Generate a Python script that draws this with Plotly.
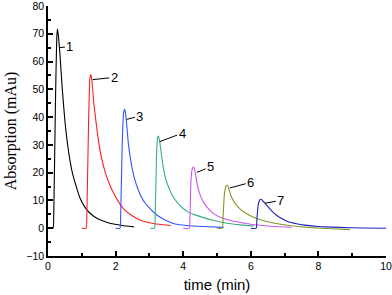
import plotly.graph_objects as go

# ---- data ----
t1 = [0, 0.15, 0.17, 0.22, 0.26, 0.28, 0.31, 0.355, 0.42, 0.50, 0.56, 0.62, 0.72, 0.84, 0.95, 1.09, 1.25, 1.46, 1.65, 1.85, 2.2, 2.54]
v1 = [0, 0, 5, 45, 69, 71.7, 69, 62.4, 50.5, 38.6, 32, 26.7, 20, 14.8, 10.8, 7.6, 5.3, 3.5, 2.5, 1.7, 1.0, 0.5]

t2 = [1.0, 1.13, 1.15, 1.20, 1.24, 1.27, 1.30, 1.36, 1.48, 1.58, 1.71, 1.82, 1.95, 2.1, 2.25, 2.5, 2.74, 3.0, 3.3, 3.63]
v2 = [0, 0, 5, 38, 54, 55.3, 53, 44.5, 32.6, 25.5, 19.5, 15.8, 12.4, 9.2, 6.8, 4.4, 2.9, 2.0, 1.4, 0.9]

t3 = [2.0, 2.13, 2.15, 2.20, 2.24, 2.27, 2.30, 2.38, 2.46, 2.55, 2.68, 2.82, 3.0, 3.17, 3.4, 3.71, 4.1, 4.6, 5.2]
v3 = [0, 0, 5, 32, 42, 42.8, 41, 30.2, 23.5, 18.3, 13.5, 10, 7.3, 5.2, 3.4, 1.7, 1.0, 0.6, 0.3]

t4 = [3.02, 3.15, 3.17, 3.21, 3.24, 3.27, 3.30, 3.41, 3.5, 3.61, 3.72, 3.86, 4.0, 4.15, 4.35, 4.55, 4.9, 5.3, 5.7, 6.1]
v4 = [0, 0, 4, 26, 32.5, 33.2, 31.5, 21.9, 17, 13.6, 11, 8.8, 7.1, 5.8, 4.8, 4.0, 2.8, 1.8, 1.2, 0.8]

t5 = [4.0, 4.18, 4.20, 4.23, 4.27, 4.31, 4.35, 4.42, 4.50, 4.60, 4.72, 4.84, 5.0, 5.19, 5.4, 5.58, 6.0, 6.5, 7.2]
v5 = [0, 0, 4, 17, 21.5, 22, 20.5, 15.4, 12, 9.4, 7.4, 5.8, 4.5, 3.5, 2.8, 2.3, 1.4, 0.8, 0.3]

t6 = [5.0, 5.16, 5.18, 5.22, 5.27, 5.31, 5.35, 5.41, 5.49, 5.58, 5.72, 5.88, 6.02, 6.17, 6.4, 6.7, 7.2, 7.8, 8.4, 8.93]
v6 = [0, 0, 4, 12.5, 15.2, 15.4, 14.2, 11.8, 9.8, 8.2, 6.5, 5.2, 4.3, 3.5, 2.6, 1.8, 0.9, 0.2, -0.2, -0.5]

t7 = [6.0, 6.16, 6.18, 6.22, 6.27, 6.31, 6.36, 6.44, 6.52, 6.64, 6.77, 6.94, 7.11, 7.35, 7.6, 8.0, 8.6, 9.3, 10.0]
v7 = [0, 0, 3, 8.5, 10.3, 10.4, 9.8, 8.7, 7.6, 6.0, 4.6, 3.3, 2.3, 1.6, 1.1, 0.6, 0.3, 0.1, 0.0]

peak_labels = ["1", "2", "3", "4", "5", "6", "7"]
# leader start (on curve) and label position, in data units
lead_t = [0.33, 1.32, 2.33, 3.31, 4.40, 5.38, 6.42]
lead_v = [65.0, 53.5, 39.2, 31.2, 20.1, 14.5, 9.0]
lab_t = [0.65, 1.96, 2.72, 3.97, 4.81, 6.00, 6.89]
lab_v = [65.4, 54.3, 40.4, 34.2, 22.1, 16.5, 10.0]

series_t = [t1, t2, t3, t4, t5, t6, t7]
series_v = [v1, v2, v3, v4, v5, v6, v7]
colors = ["#000000", "#ff2020", "#3355ff", "#3aae80", "#cc55f0", "#7f9a22", "#1f1fc0"]

fig = go.Figure()
for t, v, c, name in zip(series_t, series_v, colors, peak_labels):
    fig.add_trace(go.Scatter(x=t, y=v, mode="lines", name=name,
                             line=dict(color=c, width=1.1, shape="spline", smoothing=0.4),
                             showlegend=False))

for lt, lv, at, av, txt in zip(lead_t, lead_v, lab_t, lab_v, peak_labels):
    fig.add_annotation(x=lt, y=lv, ax=at, ay=av, axref="x", ayref="y",
                       text=txt, showarrow=True, arrowhead=0, arrowwidth=1,
                       arrowcolor="black", standoff=0,
                       font=dict(family="Liberation Sans, Arial", size=13, color="black"))

axis_common = dict(showline=True, linecolor="black", linewidth=1.5, mirror=False,
                   ticks="inside", ticklen=5, tickwidth=1.5, tickcolor="black",
                   showgrid=False, zeroline=False, ticklabeloverflow="allow",
                   automargin=False,
                   tickfont=dict(family="Liberation Sans, Arial", size=10.5, color="black"))

fig.update_xaxes(range=[0, 10], dtick=2, tick0=0,
                 minor=dict(dtick=1, ticks="inside", ticklen=3, tickwidth=1.5, tickcolor="black"),
                 title=dict(text="time (min)", standoff=8,
                            font=dict(family="Liberation Sans, Arial", size=15, color="black")),
                 **axis_common)
fig.update_yaxes(range=[-10, 80], dtick=10, tick0=0,
                 minor=dict(dtick=5, ticks="inside", ticklen=3, tickwidth=1.5, tickcolor="black"),
                 title=dict(text="Absorption (mAu)", standoff=6,
                            font=dict(family="Liberation Serif, Times New Roman", size=16, color="black")),
                 **axis_common)

fig.update_layout(width=392, height=295,
                  margin=dict(l=48, r=6, t=6, b=39, autoexpand=False),
                  paper_bgcolor="white", plot_bgcolor="white")

fig.write_html("out.html", config={"displayModeBar": False},
               post_script="document.body.style.margin='0';")
